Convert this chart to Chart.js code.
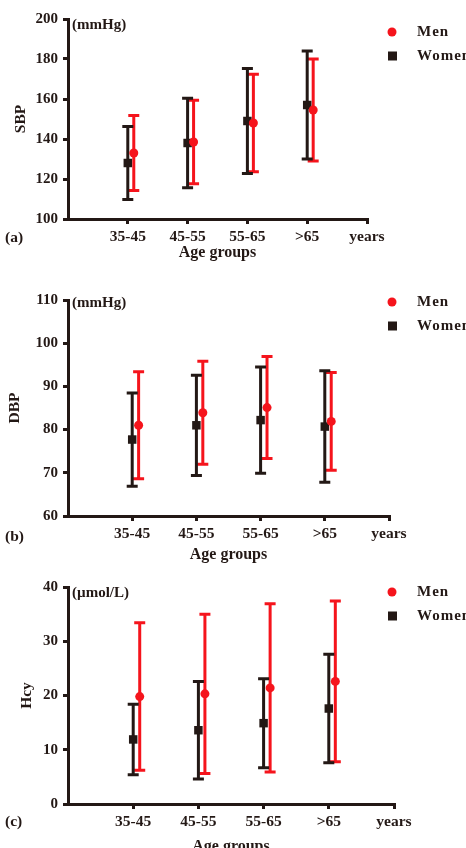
<!DOCTYPE html>
<html>
<head>
<meta charset="utf-8">
<script src="https://cdn.jsdelivr.net/npm/chart.js@4.4.1/dist/chart.umd.min.js"></script>
<style>
    html, body { margin: 0; padding: 0; background: #fff; }
    body { width: 466px; height: 848px; position: relative; overflow: hidden; }
    canvas { position: absolute; left: 0; }
</style>
</head>
<body>
<canvas id="sbpChart" width="466" height="262" style="top:0;width:466px;height:262px"></canvas>
<canvas id="dbpChart" width="466" height="302" style="top:262px;width:466px;height:302px"></canvas>
<canvas id="hcyChart" width="466" height="292" style="top:564px;width:466px;height:292px"></canvas>
<script>
// Age groups on the x axis (last tick is the unit label)
const ageGroups = ["35-45", "45-55", "55-65", ">65"];
const xTickLabels = ["35-45", "45-55", "55-65", ">65", "years"];

// SBP (mmHg), mean and SD
const sbpMenMean = [133, 138.5, 148, 154.5];
const sbpMenSd = [18.8, 20.9, 24.4, 25.5];
const sbpWomenMean = [128, 138, 149, 157];
const sbpWomenSd = [18.3, 22.4, 26.3, 27];

// DBP (mmHg)
const dbpMenMean = [81, 83.9, 85.1, 81.9];
const dbpMenSd = [12.4, 11.9, 11.8, 11.3];
const dbpWomenMean = [77.7, 81, 82.2, 80.7];
const dbpWomenSd = [10.8, 11.6, 12.3, 12.9];

// Hcy (umol/L)
const hcyMenMean = [19.8, 20.3, 21.4, 22.6];
const hcyMenSd = [13.6, 14.7, 15.5, 14.8];
const hcyWomenMean = [11.9, 13.6, 14.9, 17.6];
const hcyWomenSd = [6.5, 9, 8.2, 10];

const DARK = "#231815";
const RED = "#f5141c";
const SERIF = "'Liberation Serif', 'Times New Roman', serif";
const MEN_SHIFT = 0.1; // men drawn a little right of the tick

function toPoints(means, sds, shift) {
    return means.map((m, i) => ({ x: i + 1 + shift, y: m, sd: sds[i] }));
}

// mean +/- SD whiskers, drawn under the markers
const errorBars = {
    id: "errorBars",
    beforeDatasetsDraw(chart) {
        const ctx = chart.ctx;
        const y = chart.scales.y;
        chart.data.datasets.forEach((ds, i) => {
            const meta = chart.getDatasetMeta(i);
            ctx.save();
            ctx.strokeStyle = ds.backgroundColor;
            ctx.lineWidth = 3;
            meta.data.forEach((pt, j) => {
                const d = ds.data[j];
                const top = y.getPixelForValue(d.y + d.sd);
                const bot = y.getPixelForValue(d.y - d.sd);
                ctx.beginPath();
                ctx.moveTo(pt.x, top);
                ctx.lineTo(pt.x, bot);
                ctx.moveTo(pt.x - 5.5, top);
                ctx.lineTo(pt.x + 5.5, top);
                ctx.moveTo(pt.x - 5.5, bot);
                ctx.lineTo(pt.x + 5.5, bot);
                ctx.stroke();
            });
            ctx.restore();
        });
    }
};

// legend, unit label and panel letter
const decor = {
    id: "decor",
    afterDraw(chart, args, opts) {
        const ctx = chart.ctx;
        const area = chart.chartArea;
        ctx.save();
        ctx.textBaseline = "middle";
        ctx.fillStyle = DARK;
        ctx.font = "bold 15px " + SERIF;
        ctx.textAlign = "left";
        ctx.fillText(opts.unit, area.left + 4, opts.unitY);
        ctx.font = "bold 15.5px " + SERIF;
        ctx.fillText(opts.letter, 5, opts.letterY);

        // legend
        ctx.fillStyle = RED;
        ctx.beginPath();
        ctx.arc(392, opts.legendY, 4.5, 0, Math.PI * 2);
        ctx.fill();
        ctx.fillStyle = DARK;
        ctx.fillRect(388, opts.legendY + 24 - 4.5, 9, 9);
        ctx.font = "bold 15px " + SERIF;
        ctx.letterSpacing = "1px";
        ctx.fillText("Men", 417, opts.legendY);
        ctx.fillText("Women", 417, opts.legendY + 24);
        ctx.restore();
    }
};

function createPanel(canvasId, p) {
    const ctx = document.getElementById(canvasId).getContext("2d");
    const xTickFont = { family: SERIF, size: 15.5, weight: "bold" };
    const yTickFont = { family: SERIF, size: 15, weight: "bold" };
    const titleFont = { family: SERIF, size: 16, weight: "bold" };
    return new Chart(ctx, {
        type: "scatter",
        data: {
            datasets: [
                {
                    label: "Men",
                    data: toPoints(p.menMean, p.menSd, MEN_SHIFT),
                    backgroundColor: RED,
                    borderWidth: 0,
                    pointStyle: "circle",
                    pointRadius: 4.5,
                },
                {
                    label: "Women",
                    data: toPoints(p.womenMean, p.womenSd, 0),
                    backgroundColor: DARK,
                    borderWidth: 0,
                    pointStyle: "rect",
                    pointRadius: 6,
                },
            ],
        },
        options: {
            responsive: false,
            animation: false,
            layout: { padding: { left: 0, top: p.top, right: p.right, bottom: 0 } },
            scales: {
                x: {
                    type: "linear",
                    min: 0,
                    max: 5,
                    afterBuildTicks: (s) => { s.ticks = [1, 2, 3, 4, 5].map((v) => ({ value: v })); },
                    afterFit: (s) => { s.height = p.xHeight; },
                    ticks: {
                        color: DARK,
                        font: xTickFont,
                        padding: 4,
                        maxRotation: 0,
                        autoSkip: false,
                        callback: (v, i) => xTickLabels[i],
                    },
                    grid: { drawOnChartArea: false, drawTicks: true, tickLength: 5, color: DARK, lineWidth: 3 },
                    border: { display: true, color: DARK, width: 3 },
                    title: { display: true, text: "Age groups", color: DARK, font: titleFont, padding: 0 },
                },
                y: {
                    min: p.yMin,
                    max: p.yMax,
                    afterFit: (s) => { s.width = 68; },
                    ticks: { stepSize: p.yStep, color: DARK, font: yTickFont, padding: 5 },
                    grid: { drawOnChartArea: false, drawTicks: true, tickLength: 5, color: DARK, lineWidth: 3 },
                    border: { display: true, color: DARK, width: 3 },
                    title: { display: true, text: p.yTitle, color: DARK, font: { family: SERIF, size: 15.5, weight: "bold" }, padding: { top: p.yTitlePad, bottom: 0 } },
                },
            },
            plugins: {
                legend: { display: false },
                tooltip: { enabled: false },
                decor: p.decor,
            },
        },
        plugins: [errorBars, decor],
    });
}

createPanel("sbpChart", {
    menMean: sbpMenMean, menSd: sbpMenSd, womenMean: sbpWomenMean, womenSd: sbpWomenSd,
    yMin: 100, yMax: 200, yStep: 20, yTitle: "SBP", yTitlePad: 12,
    top: 19, right: 99, xHeight: 43,
    decor: { unit: "(mmHg)", unitY: 25, letter: "(a)", letterY: 238, legendY: 32 },
});

createPanel("dbpChart", {
    menMean: dbpMenMean, menSd: dbpMenSd, womenMean: dbpWomenMean, womenSd: dbpWomenSd,
    yMin: 60, yMax: 110, yStep: 10, yTitle: "DBP", yTitlePad: 6,
    top: 38, right: 77, xHeight: 48,
    decor: { unit: "(mmHg)", unitY: 41, letter: "(b)", letterY: 275, legendY: 40 },
});

createPanel("hcyChart", {
    menMean: hcyMenMean, menSd: hcyMenSd, womenMean: hcyWomenMean, womenSd: hcyWomenSd,
    yMin: 0, yMax: 40, yStep: 10, yTitle: "Hcy", yTitlePad: 18,
    top: 23, right: 72, xHeight: 52,
    decor: { unit: "(\u00b5mol/L)", unitY: 29, letter: "(c)", letterY: 258, legendY: 28 },
});
</script>
</body>
</html>
